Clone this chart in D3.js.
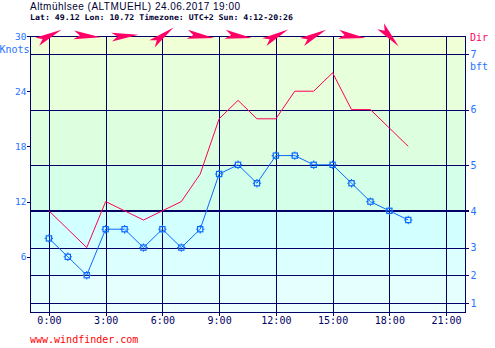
<!DOCTYPE html>
<html><head><meta charset="utf-8">
<script src="https://cdn.jsdelivr.net/npm/d3@7"></script>
<style>html,body{margin:0;padding:0;background:#fff;} svg{display:block}</style>
</head><body><svg id="c" width="495" height="348"></svg>
<script>
// ---- data ----
const hours = [0,1,2,3,4,5,6,7,8,9,10,11,12,13,14,15,16,17,18,19];
const windSpeed = [8,6,4,9,9,7,9,7,9,15,16,14,17,17,16,16,14,12,11,10];
const gusts = [11,9,7,12,11,10,11,12,15,21,23,21,21,24,24,26,22,22,20,18];
const dirHours = [0,2,4,6,8,10,12,14,16,18];
const windDir = [244,275,265,233,278,278,242,243,278,318];
const timeTicks = [0,3,6,9,12,15,18,21];
const timeLabels = ["0:00","3:00","6:00","9:00","12:00","15:00","18:00","21:00"];
const knotTicks = [6,12,18,24,30];
const bftLimits = [1,4,7,11,16,22,28];
const bftLabels = ["1","2","3","4","5","6","7"];
const bandEdges = [0,1,4,7,11,16,22,28,30];
const bandColors = ["#EEFFFF","#E5FFFF","#DCFFFF","#D2FFFF","#D4FFE9","#DDFFDF","#E7FFDA","#F0FFD6"];
const titleText = "Altmühlsee (ALTMUEHL) 24.06.2017 19:00";
const infoText = "Lat: 49.12 Lon: 10.72 Timezone: UTC+2 Sun: 4:12-20:26";

// ---- drawing ----
const svg = d3.select("#c");
const L = 30, R = 465, T = 36, B = 312;
const x = d3.scaleLinear().domain([-1,22]).range([L,R]);
const y = d3.scaleLinear().domain([0,30]).range([B,T]);
const navy = "#000066", blueTxt = "#1E73FF", lineBlue = "#0A6AFF", gustCol = "#FF0055", arrowCol = "#FF0066";
const mono = "'DejaVu Sans Mono', 'Liberation Mono', monospace";

// bands
svg.append("g").selectAll("rect").data(bandColors).join("rect")
  .attr("x", L).attr("width", R-L)
  .attr("y", (d,i)=>y(bandEdges[i+1]))
  .attr("height", (d,i)=>y(bandEdges[i]) - y(bandEdges[i+1]))
  .attr("fill", d=>d);

const grid = svg.append("g").attr("shape-rendering","crispEdges");
// vertical grid
grid.selectAll("line.v").data(timeTicks).join("line")
  .attr("x1", d=>Math.round(x(d))+0.5).attr("x2", d=>Math.round(x(d))+0.5)
  .attr("y1", T).attr("y2", B+3).attr("stroke", navy).attr("stroke-width",1);
// horizontal bft lines
grid.selectAll("line.h").data(bftLimits).join("line")
  .attr("x1", L).attr("x2", R+4)
  .attr("y1", d=>Math.round(y(d))+ (d===11?0:0.5)).attr("y2", d=>Math.round(y(d))+ (d===11?0:0.5))
  .attr("stroke", navy).attr("stroke-width", d=>d===11?2:1);
// frame
grid.append("rect").attr("x",L+0.5).attr("y",T+0.5).attr("width",R-L).attr("height",B-T)
  .attr("fill","none").attr("stroke",navy);

// axes
const axL = svg.append("g").attr("transform",`translate(${L+0.5},0)`)
  .call(d3.axisLeft(y).tickValues(knotTicks).tickSize(4).tickPadding(0));
const axR = svg.append("g").attr("transform",`translate(${R+0.5},0)`)
  .call(d3.axisRight(y).tickValues(bftLimits).tickFormat((d,i)=>bftLabels[i]).tickSize(0).tickPadding(5));
const axB = svg.append("g").attr("transform",`translate(0,${B+0.5})`)
  .call(d3.axisBottom(x).tickValues(timeTicks).tickFormat((d,i)=>timeLabels[i]).tickSize(3).tickPadding(1));
[axL,axR,axB].forEach(a=>{a.select(".domain").remove();a.selectAll("line").attr("stroke",navy).attr("shape-rendering","crispEdges");});
axL.selectAll("text").attr("fill",blueTxt).style("font-family",mono).style("font-size","9.5px");
axR.selectAll("text").attr("fill",blueTxt).style("font-family",mono).style("font-size","10px");
axB.selectAll("text").attr("fill",navy).style("font-family",mono).style("font-size","10px");

svg.append("text").attr("x",29.5).attr("y",53).attr("text-anchor","end").attr("fill",blueTxt)
  .style("font-family",mono).style("font-size","10px").text("Knots");
svg.append("text").attr("x",470).attr("y",69.5).attr("fill",blueTxt)
  .style("font-family",mono).style("font-size","10px").text("bft");
svg.append("text").attr("x",470).attr("y",40.5).attr("fill",arrowCol)
  .style("font-family",mono).style("font-size","10px").text("Dir");

// gust line
svg.append("path").datum(hours.map((h,i)=>[h,gusts[i]]))
  .attr("d", d3.line().x(d=>x(d[0])).y(d=>y(d[1])))
  .attr("fill","none").attr("stroke",gustCol).attr("stroke-width",1);
// wind line
svg.append("path").datum(hours.map((h,i)=>[h,windSpeed[i]]))
  .attr("d", d3.line().x(d=>x(d[0])).y(d=>y(d[1])))
  .attr("fill","none").attr("stroke",lineBlue).attr("stroke-width",1);
// markers
const mk = svg.append("g").selectAll("g").data(hours.map((h,i)=>[h,windSpeed[i]])).join("g")
  .attr("transform", d=>`translate(${x(d[0])},${y(d[1])})`);
mk.append("rect").attr("x",-2.6).attr("y",-2.6).attr("width",5.2).attr("height",5.2)
  .attr("fill","none").attr("stroke",lineBlue).attr("stroke-width",1.2);
mk.append("path").attr("d","M0,-4.2V-2.6M0,2.6V4.2M-4.2,0H-2.6M2.6,0H4.2")
  .attr("stroke",lineBlue).attr("stroke-width",1.1);

// direction arrows
svg.append("g").selectAll("path").data(dirHours.map((h,i)=>[h,windDir[i]])).join("path")
  .attr("transform", d=>`translate(${x(d[0])},${T}) rotate(${d[1]-270})`)
  .attr("d","M14,0 L-13,-4.5 L-7,0 L-13,4.5 Z")
  .attr("fill",arrowCol);

// titles
svg.append("text").attr("x",30).attr("y",10).attr("fill","#000033")
  .style("font-family","'Liberation Sans', Arial, sans-serif").style("font-size","10px")
  .attr("textLength",210).attr("lengthAdjust","spacing").text(titleText);
svg.append("text").attr("x",30).attr("y",19.5).attr("fill","#000033")
  .style("font-family",mono).style("font-size","7.8px").style("font-weight","bold")
  .attr("textLength",263).attr("lengthAdjust","spacingAndGlyphs").text(infoText);
svg.append("text").attr("x",30).attr("y",343).attr("fill","#FF0000")
  .style("font-family",mono).style("font-size","10px").text("www.windfinder.com");
</script></body></html>
